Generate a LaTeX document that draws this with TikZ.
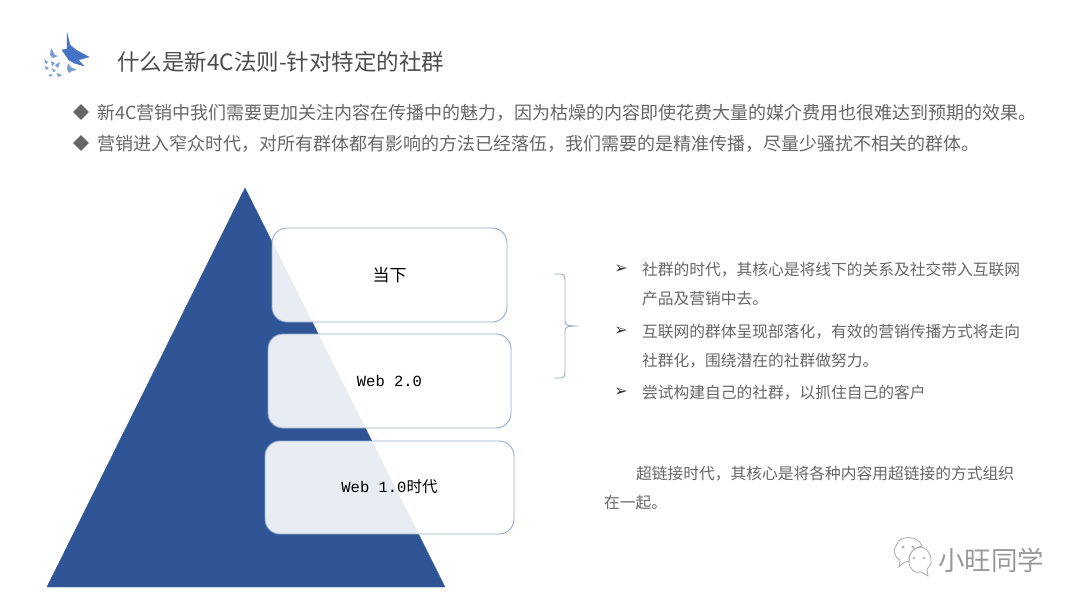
\documentclass[tikz,border=0pt]{standalone}
\usepackage{fontspec}
\usetikzlibrary{shapes.geometric}
\newfontfamily\cjkfont{Noto Sans CJK SC}
\newfontfamily\webfont{Liberation Mono}
\newfontfamily\markfont{DejaVu Sans}
\newcommand{\dou}{\symbol{"FF0C}}
\definecolor{pyramidblue}{HTML}{2F5597}
\definecolor{birdblue}{HTML}{4472C4}
\definecolor{boxline}{HTML}{94ABCB}
\definecolor{textgray}{HTML}{666666}
\tikzset{
  headtext/.style={anchor=west,inner sep=0pt,text=textgray,font=\cjkfont\fontsize{18}{20}\selectfont},
  sidetext/.style={anchor=west,inner sep=0pt,text=textgray,font=\cjkfont\fontsize{15.75}{18}\selectfont},
  sidemark/.style={inner sep=0pt,text=black!80,font=\markfont\fontsize{16}{18}\selectfont},
  headmark/.style={diamond,fill=textgray,minimum width=16pt,minimum height=16pt,inner sep=0pt},
  levelbox/.style={draw=boxline,line width=0.9pt,fill=white,fill opacity=0.89,rounded corners=15pt},
  leveltext/.style={inner sep=0pt,text=black,font=\fontsize{15.5}{18}\selectfont},
  smallbird/.style={fill=birdblue!70,draw=none}
}
\begin{document}
\begin{tikzpicture}[x=1pt,y=-1pt]
\useasboundingbox (0,0) rectangle (1080,608);
% logo
\filldraw[birdblue] (67,33) -- (70,45) -- (76,50) -- (89,57) -- (78,60) -- (84,66) -- (74,63) -- (69,60) -- (62,50) -- (67,49) -- cycle;
\filldraw[smallbird] (51,48) -- (55,55) -- (58,56) -- (53,58) -- (50,55) -- cycle;
\filldraw[smallbird] (68,63) -- (71,67) -- (77,70) -- (72,71) -- (69,73) -- (67,69) -- cycle;
\filldraw[smallbird] (44,59) -- (48,62) -- (46,64) -- cycle;
\filldraw[smallbird] (51,61) -- (55,63) -- (52,66) -- cycle;
\filldraw[smallbird] (60,62) -- (58,68) -- (55,65) -- cycle;
\filldraw[smallbird] (45,66) -- (49,68) -- (46,70) -- cycle;
\filldraw[smallbird] (52,68) -- (56,71) -- (53,72) -- cycle;
\filldraw[smallbird] (49,74) -- (53,75) -- (50,77) -- cycle;
\filldraw[smallbird] (57,73) -- (62,75) -- (58,77) -- cycle;
\node[anchor=west,inner sep=0pt,text=black!70,font=\cjkfont\fontsize{22.5}{26}\selectfont] (title) at (117,61.5) {什么是新4C法则-针对特定的社群};
% two lines under the title
\node[headmark] (marka) at (81,112) {};
\node[headmark] (markb) at (81,143) {};
\node[headtext] (linea) at (97,113) {新4C营销中我们需要更加关注内容在传播中的魅力\dou 因为枯燥的内容即使花费大量的媒介费用也很难达到预期的效果。};
\node[headtext] (lineb) at (97,144) {营销进入窄众时代\dou 对所有群体都有影响的方法已经落伍\dou 我们需要的是精准传播\dou 尽量少骚扰不相关的群体。};
% pyramid
\filldraw[pyramidblue] (245,188) -- (445,587) -- (47,587) -- cycle;
\draw[levelbox] (272,228) rectangle (507,322);
\draw[levelbox] (268,334) rectangle (511,428);
\draw[levelbox] (265,441) rectangle (514,534);
\node[leveltext] (now) at (389.5,275) {\cjkfont\fontsize{17}{20}\selectfont 当下};
\node[leveltext] (webtwo) at (389.5,381) {\webfont Web 2.0};
\node[leveltext] (webone) at (389.5,487) {\webfont Web 1.0\cjkfont 时代};
% brace
\draw[boxline,line width=0.9pt] (554,274) -- (561,274) .. controls (564,274) and (565,276) .. (565,279) -- (565,321) .. controls (565,325) and (567,326) .. (578,326) .. controls (567,326) and (565,327) .. (565,331) -- (565,373) .. controls (565,376) and (564,378) .. (561,378) -- (554,378);
% right column
\node[sidemark] (marksa) at (621,269) {➢};
\node[sidemark] (marksb) at (621,331) {➢};
\node[sidemark] (marksc) at (621,392) {➢};
\node[sidetext] (sidea) at (642,270) {社群的时代\dou 其核心是将线下的关系及社交带入互联网};
\node[sidetext] (sideb) at (642,299) {产品及营销中去。};
\node[sidetext] (sidec) at (642,332) {互联网的群体呈现部落化\dou 有效的营销传播方式将走向};
\node[sidetext] (sided) at (642,361) {社群化\dou 围绕潜在的社群做努力。};
\node[sidetext] (sidee) at (642,393) {尝试构建自己的社群\dou 以抓住自己的客户};
\node[sidetext] (sidef) at (636,474) {超链接时代\dou 其核心是将各种内容用超链接的方式组织};
\node[sidetext] (sideg) at (604,503) {在一起。};
% watermark
\draw[black!30,line width=0.9pt] (897,544) .. controls (900,535) and (918,535) .. (922,546) .. controls (912,548) and (908,556) .. (909,561) .. controls (905,562) and (902,563) .. (899,567) -- (900,560) .. controls (893,556) and (893,549) .. (897,544);
\draw[black!30,line width=0.9pt] (909,561) .. controls (909,544) and (929,542) .. (931,559) .. controls (932,565) and (928,568) .. (927,569) -- (928,576) -- (921,572) .. controls (915,574) and (909,569) .. (909,561);
\filldraw[black!30] (903,547) circle (1.3pt);
\filldraw[black!30] (913,547) circle (1.3pt);
\filldraw[black!30] (914,558) circle (1.1pt);
\filldraw[black!30] (924,558) circle (1.1pt);
\node[anchor=west,inner sep=0pt,text=black!40,font=\cjkfont\fontsize{26.5}{30}\selectfont] (brand) at (938,560) {小旺同学};
\end{tikzpicture}
\end{document}
